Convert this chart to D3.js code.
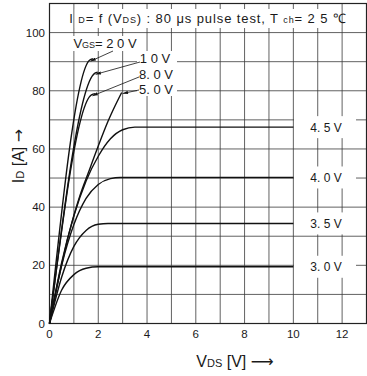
<!DOCTYPE html>
<html>
<head>
<meta charset="utf-8">
<script src="https://cdn.jsdelivr.net/npm/d3@7"></script>
<style>
  html, body { margin: 0; padding: 0; background: #fff; }
  svg { display: block; }
  text { font-family: "Liberation Sans", Arial, sans-serif; fill: #1a1a1a; }
</style>
</head>
<body>
<svg id="chart" width="367" height="376"></svg>
<script>
// ---------- data ----------
const xTicks = [0, 2, 4, 6, 8, 10, 12];
const yTicks = [0, 20, 40, 60, 80, 100];
const xDomain = [0, 13];
const yDomain = [0, 110];

// curves: [VDS (V), ID (A)]
const vgs20 = [[0, 0], [1.64, 90.5], [1.78, 91.0]];
const vgs10 = [[0, 0], [1.85, 86.0], [1.98, 86.4]];
const vgs8  = [[0, 0], [1.72, 78.6], [1.88, 79.0]];
const vgs5  = [[0, 0], [0.8, 31.0], [1.25, 44.0], [1.6, 52.0], [2.0, 61.0], [2.4, 69.5], [2.7, 75.0], [2.96, 79.4]];
const vgs45 = [[0, 0], [0.5, 21.0], [1.0, 37.0], [1.5, 49.0], [2.0, 57.5], [2.5, 63.5], [3.0, 66.6], [3.5, 67.5], [10, 67.5]];
const vgs40 = [[0, 0], [0.5, 20.0], [1.0, 34.0], [1.5, 43.0], [2.0, 47.8], [2.5, 49.8], [2.9, 50.2], [10, 50.2]];
const vgs35 = [[0, 0], [0.5, 16.0], [1.0, 26.5], [1.5, 32.0], [2.0, 34.1], [2.4, 34.4], [10, 34.4]];
const vgs30 = [[0, 0], [0.5, 11.5], [1.0, 16.8], [1.5, 19.0], [2.0, 19.5], [10, 19.5]];

const rightLabels = ["4. 5 V", "4. 0 V", "3. 5 V", "3. 0 V"];
const rightSeries = [vgs45, vgs40, vgs35, vgs30];
const leftLabels = ["2 0 V", "1 0 V", "8. 0 V", "5. 0 V"];
const leftSeries = [vgs20, vgs10, vgs8, vgs5];

// ---------- scales ----------
const svg = d3.select("#chart");
const x = d3.scaleLinear().domain(xDomain).range([49.5, 366.5]);
const y = d3.scaleLinear().domain(yDomain).range([323.5, 3.5]);

// ---------- grid ----------
const grid = svg.append("g").attr("stroke", "#3a3a3a").attr("stroke-width", 0.8);
grid.selectAll("line.v").data(d3.range(1, 13)).join("line")
  .attr("x1", d => x(d)).attr("x2", d => x(d))
  .attr("y1", y(0)).attr("y2", y(110));
grid.selectAll("line.h").data(d3.range(10, 110, 10)).join("line")
  .attr("x1", x(0)).attr("x2", x(13))
  .attr("y1", d => y(d)).attr("y2", d => y(d));

// white backgrounds over grid
const bg = svg.append("g").attr("fill", "#fff");
bg.append("rect").attr("x", x(1) + 1).attr("y", 9).attr("width", x(12) - x(1) - 2).attr("height", 19);
rightSeries.forEach(s => {
  const v = s[s.length - 1][1];
  bg.append("rect").attr("x", 294).attr("y", y(v) - 11).attr("width", 62).attr("height", 22);
});
bg.append("rect").attr("x", 70).attr("y", 36).attr("width", 72).attr("height", 15);
bg.append("rect").attr("x", 137).attr("y", 51).attr("width", 40).attr("height", 45);

// frame
svg.append("rect").attr("x", x(0)).attr("y", y(110)).attr("width", x(13) - x(0)).attr("height", y(0) - y(110))
  .attr("fill", "none").attr("stroke", "#222").attr("stroke-width", 1.2);

// ---------- curves ----------
const line = d3.line().x(d => x(d[0])).y(d => y(d[1])).curve(d3.curveMonotoneX);
const allSeries = [vgs20, vgs10, vgs8, vgs5, vgs45, vgs40, vgs35, vgs30];
svg.append("g").selectAll("path").data(allSeries).join("path")
  .attr("d", d => line(d))
  .attr("fill", "none").attr("stroke", "#111").attr("stroke-width", 1.4);

// ---------- axes tick labels ----------
svg.append("g").selectAll("text").data(xTicks).join("text")
  .attr("x", d => x(d)).attr("y", 338).attr("text-anchor", "middle")
  .attr("font-size", 11.5).text(d => d);
svg.append("g").selectAll("text").data(yTicks).join("text")
  .attr("x", 45).attr("y", d => y(d) + 4).attr("text-anchor", "end")
  .attr("font-size", 11.5).text(d => d);

// ---------- right labels ----------
svg.append("g").selectAll("text").data(rightSeries).join("text")
  .attr("x", 326).attr("y", d => y(d[d.length - 1][1]) + 4.5).attr("text-anchor", "middle")
  .attr("font-size", 12).text((d, i) => rightLabels[i]);

// ---------- left labels with leaders ----------
svg.append("defs").append("marker").attr("id", "arr")
  .attr("viewBox", "0 0 10 6").attr("refX", 10).attr("refY", 3)
  .attr("markerWidth", 9).attr("markerHeight", 4).attr("orient", "auto")
  .append("path").attr("d", "M0,0 L10,3 L0,6 Z").attr("fill", "#111");

const leadStart = [[113, 51], [140, 62], [139, 77], [139, 90]];
const labPos = [[105, 48], [155, 63], [156, 79], [156, 94]];
const leaders = svg.append("g").attr("stroke", "#111").attr("stroke-width", 0.8);
leftSeries.forEach((s, i) => {
  const top = s[s.length - 1];
  const tip = i === 3 ? top : s[s.length - 2];
  leaders.append("line")
    .attr("x1", leadStart[i][0]).attr("y1", leadStart[i][1])
    .attr("x2", x(tip[0]) + 1).attr("y2", y(tip[1]) + 1)
    .attr("marker-end", "url(#arr)");
});
const vgsT = svg.append("text").attr("x", labPos[0][0]).attr("y", labPos[0][1])
  .attr("text-anchor", "middle").attr("font-size", 13);
vgsT.append("tspan").text("V");
vgsT.append("tspan").attr("font-size", 9).text("GS");
vgsT.append("tspan").text("= " + leftLabels[0]);
for (let i = 1; i < 4; i++) {
  svg.append("text").attr("x", labPos[i][0]).attr("y", labPos[i][1])
    .attr("text-anchor", "middle").attr("font-size", 13).text(leftLabels[i]);
}

// ---------- title ----------
const t = svg.append("text").attr("x", 208).attr("y", 23).attr("text-anchor", "middle")
  .attr("font-size", 13).attr("letter-spacing", 0.9);
t.append("tspan").text("I ");
t.append("tspan").attr("font-size", 9).text("D");
t.append("tspan").text("= f (V");
t.append("tspan").attr("font-size", 9).text("DS");
t.append("tspan").text(") : 80 μs pulse test,  T ");
t.append("tspan").attr("font-size", 9).text("ch");
t.append("tspan").text("= 2 5 ℃");

// ---------- axis titles ----------
const xl = svg.append("text").attr("x", 235).attr("y", 367).attr("text-anchor", "middle").attr("font-size", 16);
xl.append("tspan").text("V");
xl.append("tspan").attr("font-size", 11).text("DS");
xl.append("tspan").text(" [V] ");
xl.append("tspan").attr("font-family", "DejaVu Sans").text("⟶");

const yl = svg.append("text").attr("transform", "translate(24,156) rotate(-90)")
  .attr("text-anchor", "middle").attr("font-size", 16);
yl.append("tspan").text("I");
yl.append("tspan").attr("font-size", 11).text("D");
yl.append("tspan").text(" [A]  ");
yl.append("tspan").attr("font-family", "DejaVu Sans").text("→");
</script>
</body>
</html>
